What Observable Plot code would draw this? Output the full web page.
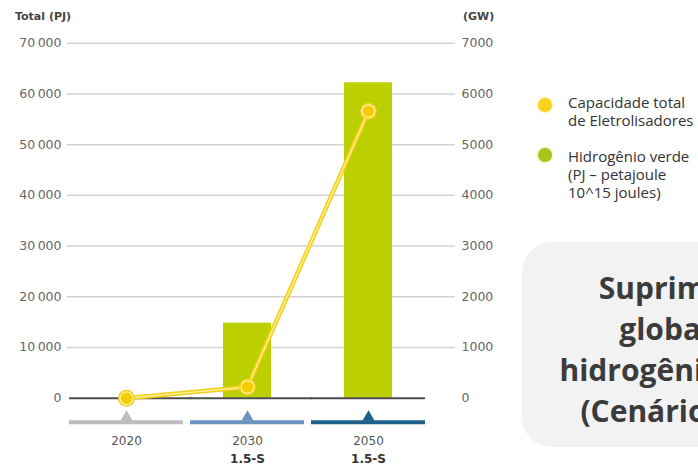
<!DOCTYPE html>
<html>
<head>
<meta charset="utf-8">
<script src="https://cdn.jsdelivr.net/npm/d3@7"></script>
<script src="https://cdn.jsdelivr.net/npm/@observablehq/plot@0.6"></script>
<style>
  html, body { margin: 0; padding: 0; background: #fff; }
  #wrap { position: relative; width: 698px; height: 465px; overflow: hidden; background: #fff; }
  #chart { position: absolute; left: 0; top: 0; }
  .ttl { position: absolute; font-family: "DejaVu Sans", sans-serif; font-size: 11px; font-weight: bold; color: #444; }
  .leg { position: absolute; font-family: "Open Sans", sans-serif; font-size: 15px; line-height: 18px; color: #333; white-space: nowrap; }
  .sw { position: absolute; width: 14px; height: 14px; border-radius: 50%; }
  #box { position: absolute; left: 522px; top: 242px; width: 330px; height: 205px; border-radius: 30px; background: #f2f2f2;
         box-sizing: border-box; padding-top: 8px;
         display: flex; align-items: center; justify-content: center; text-align: center; white-space: nowrap;
         font-family: "Open Sans", sans-serif; font-weight: bold; font-size: 30px; line-height: 41px; color: #3b3b3b; }
</style>
</head>
<body>
<div id="wrap">
  <div id="chart"></div>
  <div class="ttl" style="left:15px; top:10px;">Total (PJ)</div>
  <div class="ttl" style="left:463px; top:10px;">(GW)</div>
  <div class="sw" style="left:538px; top:98px; background:#f8d31c; box-shadow:0 0 3px #f8e060;"></div>
  <div class="leg" style="left:568px; top:93px;">Capacidade total<br>de Eletrolisadores</div>
  <div class="sw" style="left:538px; top:148px; background:#a9c418; box-shadow:0 0 3px #c8dc60;"></div>
  <div class="leg" style="left:568px; top:147px;">Hidrogênio verde<br>(PJ – petajoule<br>10^15 joules)</div>
  <div id="box"><div>Suprimento<br>global de<br>hidrogênio verde<br>(Cenário 1.5-S)</div></div>
</div>
<script>
// ---- data ----
const years = ["2020", "2030", "2050"];
const scenarios = ["", "1.5-S", "1.5-S"];
const hydrogenPJ = [0, 14800, 62200];
const electrolyserGW = [0, 220, 5660];
const stripColors = ["#bdbdbd", "#6b93c1", "#1c5f8b"];
const yTicksPJ = [0, 10000, 20000, 30000, 40000, 50000, 60000, 70000];

const data = years.map((year, i) => ({
  year, scenario: scenarios[i], pj: hydrogenPJ[i], gw: electrolyserGW[i], color: stripColors[i]
}));

const fmtPJ = d => d === 0 ? "0" : d3.format(",")(d).replace(",", "\u2009");

const chart = Plot.plot({
  width: 698,
  height: 465,
  marginLeft: 67,
  marginRight: 243,
  marginTop: 42.7,
  marginBottom: 67.3,
  style: { fontFamily: "DejaVu Sans, sans-serif", fontSize: "12.5px", color: "#666", background: "transparent" },
  x: { domain: years, range: [68, 426], paddingInner: 0.06, paddingOuter: 0, axis: null },
  y: { domain: [0, 70000], axis: null },
  color: { type: "identity" },
  marks: [
    Plot.ruleY(yTicksPJ.filter(d => d > 0), { stroke: "#d3d3d3", strokeWidth: 1.5 }),
    Plot.barY(data, { x: "year", y: "pj", fill: "#bccf00", insetLeft: 33, insetRight: 33 }),
    Plot.tickY(data.slice(0, 2), { x: "year", y: 0, stroke: "#4d4d4d", strokeWidth: 2, insetRight: -8 }),
    Plot.tickY(data.slice(2), { x: "year", y: 0, stroke: "#4d4d4d", strokeWidth: 2 }),
    Plot.axisY({ anchor: "left", ticks: yTicksPJ, tickSize: 0, tickPadding: 6, tickFormat: fmtPJ, label: null }),
    Plot.axisY({ anchor: "right", ticks: yTicksPJ, tickSize: 0, tickPadding: 6, tickFormat: d => String(d / 10), label: null }),
    Plot.tickY(data, { x: "year", y: 0, stroke: "color", strokeWidth: 4, dy: 24 }),
    Plot.dot(data, { x: "year", y: 0, symbol: "triangle", r: 4.5, fill: "color", dy: 19 }),
    Plot.line(data, { x: "year", y: d => d.gw * 10, stroke: "#f2d01c", strokeWidth: 4.5 }),
    Plot.line(data, { x: "year", y: d => d.gw * 10, stroke: "#fff3a6", strokeWidth: 1.2 }),
    Plot.dot(data, { x: "year", y: d => d.gw * 10, r: 8.5, fill: "#f2d01c" }),
    Plot.dot(data, { x: "year", y: d => d.gw * 10, r: 7, fill: "#fff3a6" }),
    Plot.dot(data, { x: "year", y: d => d.gw * 10, r: 5.7, fill: "#f5cd00" }),
    Plot.text(data, { x: "year", y: 0, text: "year", dy: 43, fill: "#555", fontSize: 12 }),
    Plot.text(data, { x: "year", y: 0, text: "scenario", dy: 61, fill: "#333", fontSize: 12, fontWeight: "bold" })
  ]
});
document.getElementById("chart").appendChild(chart);
</script>
</body>
</html>
